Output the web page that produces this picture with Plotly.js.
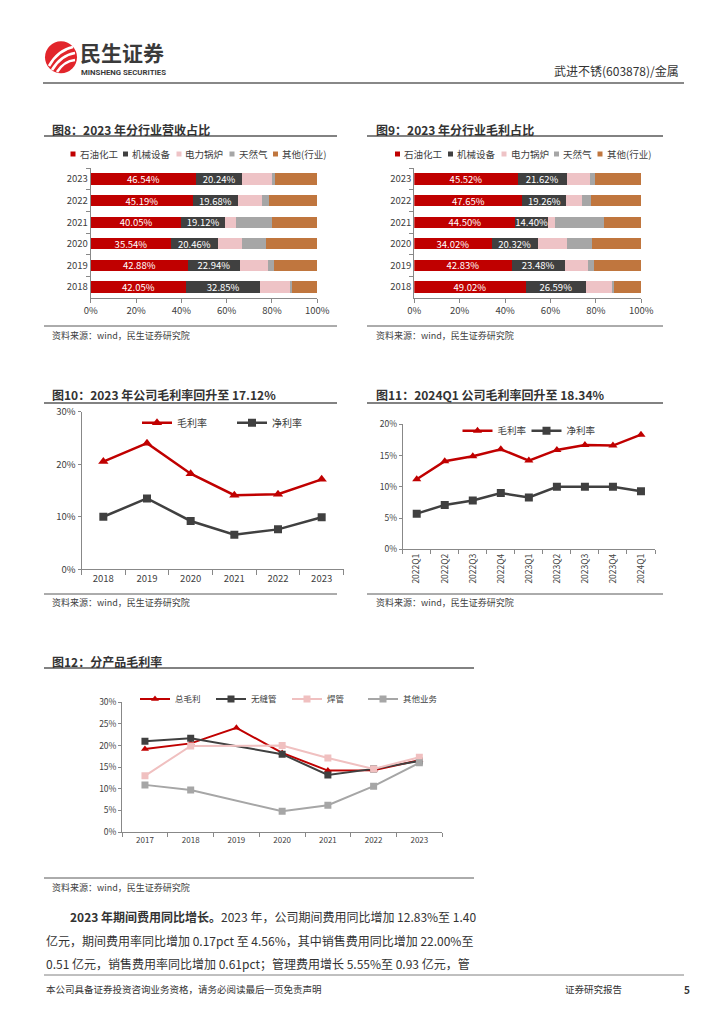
<!DOCTYPE html>
<html><head><meta charset="utf-8">
<script src="https://cdn.plot.ly/plotly-3.0.1.min.js"></script>
<style>html,body{margin:0;padding:0;background:#fff;}#page{width:724px;height:1024px;}</style>
</head><body><div id="page"></div>
<script>
// ---------- data ----------
const years8 = ['2018','2019','2020','2021','2022','2023'];
const segNames = ['石油化工','机械设备','电力锅炉','天然气','其他(行业)'];
// 图8 revenue share (%)
const rev_petro  = [42.05,42.88,35.54,40.05,45.19,46.54];
const rev_mach   = [32.85,22.94,20.46,19.12,19.68,20.24];
const rev_boiler = [13.0,12.4,10.9,5.0,10.6,13.3];
const rev_gas    = [0.9,2.5,10.3,16.0,3.3,1.1];
const rev_other  = [11.2,19.3,22.8,19.8,21.2,18.8];
// 图9 gross-profit share (%)
const gp_petro  = [49.02,42.83,34.02,44.50,47.65,45.52];
const gp_mach   = [26.59,23.48,20.32,14.40,19.26,21.62];
const gp_boiler = [11.6,10.4,12.9,2.9,7.1,10.4];
const gp_gas    = [0.8,2.5,11.0,21.8,4.0,2.1];
const gp_other  = [12.0,20.8,21.8,16.4,22.0,20.4];
// 图10 annual margins (%)
const years10 = ['2018','2019','2020','2021','2022','2023'];
const gm10 = [20.5,24.0,18.2,14.1,14.3,17.12];
const nm10 = [10.0,13.5,9.2,6.6,7.6,9.9];
// 图11 quarterly margins (%)
const quarters11 = ['2022Q1','2022Q2','2022Q3','2022Q4','2023Q1','2023Q2','2023Q3','2023Q4','2024Q1'];
const gm11 = [11.2,14.1,14.9,16.0,14.2,15.9,16.7,16.6,18.34];
const nm11 = [5.7,7.1,7.8,9.0,8.3,10.0,10.0,10.0,9.3];
// 图12 margin by product (%)
const years12 = ['2017','2018','2019','2020','2021','2022','2023'];
const total12    = [19.2,20.5,24.1,18.3,14.2,14.3,16.6];
const seamless12 = [21.0,21.7,null,18.0,13.2,14.6,16.4];
const welded12   = [13.0,19.9,null,20.0,17.1,14.6,17.3];
const other12    = [10.9,9.7,null,4.8,6.2,10.6,16.0];

// ---------- helpers ----------
const W = 724, H = 1024;
const fx = p => p / W;
const fy = p => 1 - p / H;
const FONT = '"Noto Sans CJK SC","Noto Sans",sans-serif';
const RED='#C00000', DARK='#404040', PINK='#EEC3C6', GRAY='#A6A6A6', BROWN='#C0763E';
const segColors = [RED, DARK, PINK, GRAY, BROWN];

const traces = [];
function addBars(series, xa, ya) {
  series.forEach((v, i) => {
    traces.push({
      type:'bar', orientation:'h', y: years8, x: v, xaxis: xa, yaxis: ya,
      name: segNames[i], showlegend:false, hoverinfo:'skip',
      marker:{color: segColors[i], line:{width:0}},
      text: i < 2 ? v.map(d => d.toFixed(2) + '%') : null,
      textposition: i < 2 ? 'inside' : 'none',
      insidetextanchor:'middle',
      textfont:{color:'#ffffff', size:9.5, family:FONT}
    });
  });
}
addBars([rev_petro, rev_mach, rev_boiler, rev_gas, rev_other], 'x', 'y');
addBars([gp_petro, gp_mach, gp_boiler, gp_gas, gp_other], 'x2', 'y2');

function line(x, y, xa, ya, name, color, symbol, lg, w, ms) {
  traces.push({type:'scatter', mode:'lines+markers', x, y, xaxis:xa, yaxis:ya, name,
    legend: lg, connectgaps:true, hoverinfo:'skip',
    line:{color, width:w}, marker:{symbol, size:ms, color}});
}
line(years10, gm10, 'x3','y3','毛利率', RED, 'triangle-up', 'legend2', 2.5, 9);
line(years10, nm10, 'x3','y3','净利率', DARK, 'square', 'legend2', 2.5, 8);
line(quarters11, gm11, 'x4','y4','毛利率', RED, 'triangle-up', 'legend3', 2.5, 8);
line(quarters11, nm11, 'x4','y4','净利率', DARK, 'square', 'legend3', 2.5, 8);
line(years12, total12, 'x5','y5','总毛利', RED, 'triangle-up', 'legend4', 2, 7);
line(years12, seamless12, 'x5','y5','无缝管', DARK, 'square', 'legend4', 2, 7);
line(years12, welded12, 'x5','y5','焊管', '#F0C0C0', 'square', 'legend4', 2, 7);
line(years12, other12, 'x5','y5','其他业务', GRAY, 'square', 'legend4', 2, 7);

const axBase = {showgrid:false, zeroline:false, showline:true, linecolor:'#888', linewidth:1,
  ticks:'outside', tickcolor:'#888', ticklen:4, fixedrange:true,
  tickfont:{size:9.5, color:'#404040', family:FONT}};
const ax = o => Object.assign({}, JSON.parse(JSON.stringify(axBase)), o);

const pctX = {range:[0,100], tickmode:'linear', tick0:0, dtick:20, ticksuffix:'%'};
const catY8 = {type:'category', categoryorder:'array', categoryarray:years8, range:[-0.5,5.5], tickson:'boundaries'};

const layout = {
  width:W, height:H, margin:{l:0,r:0,t:0,b:0}, paper_bgcolor:'#fff', plot_bgcolor:'rgba(0,0,0,0)',
  font:{family:FONT, color:'#333'},
  barmode:'stack', bargap:0.48,
  uniformtext:{mode:'show', minsize:9.5},
  xaxis:  ax(Object.assign({domain:[fx(90.7), fx(317.3)], anchor:'y'}, pctX)),
  yaxis:  ax(Object.assign({domain:[fy(297.8), fy(168.2)], anchor:'x'}, catY8)),
  xaxis2: ax(Object.assign({domain:[fx(414.3), fx(641.3)], anchor:'y2'}, pctX)),
  yaxis2: ax(Object.assign({domain:[fy(297.8), fy(168.2)], anchor:'x2'}, catY8)),
  xaxis3: ax({domain:[fx(81.5), fx(343.5)], anchor:'y3', type:'category', range:[-0.5,5.5], tickson:'boundaries', ticklen:5}),
  yaxis3: ax({domain:[fy(569.3), fy(411.7)], anchor:'x3', range:[0,30], dtick:10, ticksuffix:'%', ticklen:3}),
  xaxis4: ax({domain:[fx(402.7), fx(655)], anchor:'y4', type:'category', range:[-0.5,8.5], tickson:'boundaries', tickangle:-90, tickfont:{size:8.5, color:'#404040', family:FONT}}),
  yaxis4: ax({domain:[fy(549.3), fy(424.3)], anchor:'x4', range:[0,20], dtick:5, ticksuffix:'%', ticklen:3, tickfont:{size:8.5, color:'#404040', family:FONT}}),
  xaxis5: ax({domain:[fx(122.1), fx(442.2)], anchor:'y5', type:'category', range:[-0.5,6.5], tickson:'boundaries', tickfont:{size:8, color:'#404040', family:FONT}}),
  yaxis5: ax({domain:[fy(832), fy(702.3)], anchor:'x5', range:[0,30], dtick:5, ticksuffix:'%', ticklen:3, tickfont:{size:8.5, color:'#404040', family:FONT}}),
  showlegend:true,
  legend2:{orientation:'h', x:fx(137), y:fy(422.7), xanchor:'left', yanchor:'middle', bgcolor:'rgba(0,0,0,0)', entrywidthmode:'pixels', entrywidth:50, font:{size:10, color:'#404040', family:FONT}},
  legend3:{orientation:'h', x:fx(457.5), y:fy(430.7), xanchor:'left', yanchor:'middle', bgcolor:'rgba(0,0,0,0)', entrywidthmode:'pixels', entrywidth:24, font:{size:9.5, color:'#404040', family:FONT}},
  legend4:{orientation:'h', x:fx(135), y:fy(699), xanchor:'left', yanchor:'middle', bgcolor:'rgba(0,0,0,0)', entrywidthmode:'pixels', entrywidth:31, font:{size:8.5, color:'#404040', family:FONT}},
  shapes:[], annotations:[]
};

function hline(y, x0, x1, color, w) {
  layout.shapes.push({type:'line', xref:'paper', yref:'paper', x0:fx(x0), x1:fx(x1), y0:fy(y), y1:fy(y), line:{color, width:w}});
}
function txt(x, y, s, size, opts) {
  layout.annotations.push(Object.assign({xref:'paper', yref:'paper', x:fx(x), y:fy(y), text:s, showarrow:false,
    xanchor:'left', yanchor:'middle', font:{size, color:'#333', family:FONT}}, opts || {}));
}

// header / logo
layout.shapes.push({type:'circle', xref:'paper', yref:'paper', x0:fx(45), x1:fx(77), y0:fy(73.3), y1:fy(41.3), fillcolor:'#E2252B', line:{width:0}});
const P = (x, y) => fx(x) + ',' + fy(y);
[[49,66,58,50,73,47],[52,70,61,55,75,53],[57,72,64,61,75,60]].forEach(c => {
  layout.shapes.push({type:'path', xref:'paper', yref:'paper', path:'M' + P(c[0],c[1]) + ' Q' + P(c[2],c[3]) + ' ' + P(c[4],c[5]), line:{color:'#fff', width:2.6}});
});
txt(79, 51.5, '<b>民生证券</b>', 21, {borderpad:0, font:{size:21, color:'#3A3A3A', family:FONT}});
txt(80, 72.5, '<b>MINSHENG SECURITIES</b>', 7.8, {borderpad:0, font:{size:7.8, color:'#3A3A3A', family:'"Liberation Sans Narrow","Roboto",sans-serif'}});
txt(681, 70, '武进不锈(603878)/金属', 12, {xanchor:'right', font:{size:12, color:'#333', family:FONT}});
hline(83, 43, 684, '#606060', 1.5);

// titles + rules
const titleFont = {size:12, color:'#333', family:FONT};
txt(50, 129, '<b>图8：2023 年分行业营收占比</b>', 12, {font:titleFont});
txt(374, 129, '<b>图9：2023 年分行业毛利占比</b>', 12, {font:titleFont});
txt(50, 394, '<b>图10：2023 年公司毛利率回升至 17.12%</b>', 12, {font:titleFont});
txt(374, 394, '<b>图11：2024Q1 公司毛利率回升至 18.34%</b>', 12, {font:titleFont});
txt(50, 661, '<b>图12：分产品毛利率</b>', 12, {font:titleFont});
hline(136, 44, 337, '#595959', 1.3); hline(136, 367, 663, '#595959', 1.3);
hline(403, 44, 337, '#595959', 1.3); hline(403, 367, 663, '#595959', 1.3);
hline(668, 44, 474, '#595959', 1.3);
hline(326, 44, 337, '#595959', 1); hline(326, 367, 663, '#595959', 1);
hline(594, 44, 337, '#595959', 1); hline(594, 367, 663, '#595959', 1);
hline(878, 44, 474, '#595959', 1);
const srcFont = {size:9, color:'#404040', family:FONT};
const SRC = '资料来源：wind，民生证券研究院';
[[50,335],[374,335],[50,602],[374,602],[50,887]].forEach(p => txt(p[0], p[1], SRC, 9, {font:srcFont}));

// bar legends (square + label)
function barLegend(xs, y) {
  xs.forEach((x, i) => {
    layout.shapes.push({type:'rect', xref:'paper', yref:'paper', x0:fx(x), x1:fx(x+5), y0:fy(y+2.5), y1:fy(y-2.5), fillcolor:segColors[i], line:{width:0}});
    txt(x + 7, y, segNames[i], 9.5, {font:{size:9.5, color:'#404040', family:FONT}});
  });
}
barLegend([70.5, 123, 176.5, 229.5, 273], 154);
barLegend([395, 448, 501.5, 554, 597.5], 154);

// body text
const bodyFont = {size:12, color:'#333', family:FONT};
txt(68, 916, '<b>2023 年期间费用同比增长。</b>2023 年，公司期间费用同比增加 12.83%至 1.40', 12, {font:bodyFont});
txt(44, 940, '亿元，期间费用率同比增加 0.17pct 至 4.56%，其中销售费用同比增加 22.00%至', 12, {font:bodyFont});
txt(44, 963, '0.51 亿元，销售费用率同比增加 0.61pct；管理费用增长 5.55%至 0.93 亿元，管', 12, {font:bodyFont});

// footer
hline(975, 44, 684, '#808080', 1);
const footFont = {size:9.5, color:'#333', family:FONT};
txt(44, 989, '本公司具备证券投资咨询业务资格，请务必阅读最后一页免责声明', 9.5, {font:footFont});
txt(563, 989, '证券研究报告', 9.5, {font:footFont});
txt(682, 989, '<b>5</b>', 10, {font:{size:10, color:'#333', family:FONT}});

Plotly.newPlot('page', traces, layout, {displayModeBar:false, staticPlot:true});
</script></body></html>
